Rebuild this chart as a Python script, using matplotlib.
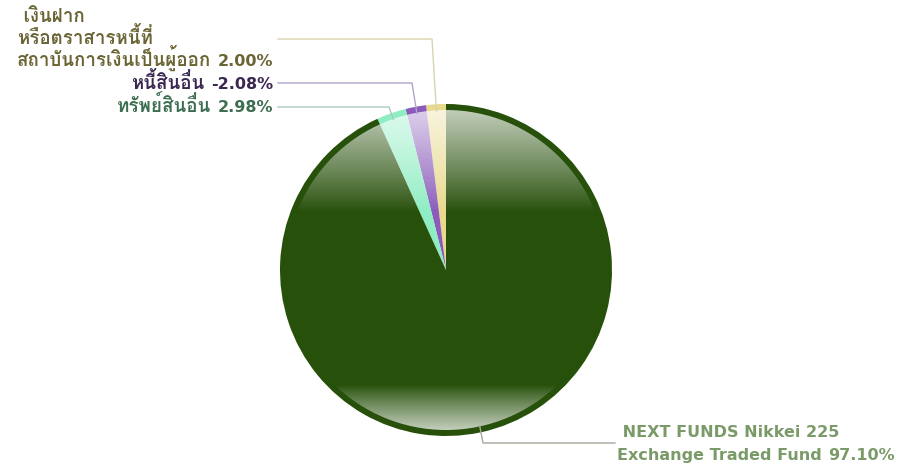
import numpy as np
import matplotlib
matplotlib.use('Agg')
import matplotlib.pyplot as plt
from matplotlib.patches import Circle

plt.rcParams['font.family'] = ['DejaVu Sans', 'Loma']

# 데이터
labels = [' เงินฝาก\nหรือตราสารหนี้ที่\nสถาบันการเงินเป็นผู้ออก',
          'หนี้สินอื่น',
          'ทรัพย์สินอื่น',
          ' NEXT FUNDS Nikkei 225\nExchange Traded Fund']
values = [2.00, -2.08, 2.98, 97.10]

colors = ['#E8D98C', '#8A5BBA', '#8EEDC2', '#27500B']
text_colors = ['#6B6535', '#3A2850', '#3E6E52', '#7A9A68']
line_colors = ['#D8D3AE', '#B4A4CC', '#A9C9BF', '#A3AA9C']

W, H = 906, 465
fig = plt.figure(figsize=(W / 100, H / 100), dpi=100)
ax = fig.add_axes([0, 0, 1, 1])

cx, cy, R = 446, 195, 166
sizes = np.abs(values)
wedges, _ = ax.pie(sizes, colors=colors, startangle=90, counterclock=True,
                   radius=R, center=(cx, cy), frame=False,
                   wedgeprops=dict(linewidth=0))
ax.set_xlim(0, W)
ax.set_ylim(0, H)
ax.set_aspect('equal')
ax.axis('off')

# 그라데이션 (위/아래 하이라이트)
r_in = R - 6
yy = np.linspace(1, -1, 400)
alpha = np.zeros_like(yy)
top = yy > 0.36
alpha[top] = 0.72 * ((yy[top] - 0.36) / 0.64) ** 0.9
bot = yy < -0.72
alpha[bot] = 0.72 * ((-0.72 - yy[bot]) / 0.28) ** 0.9
grad = np.ones((400, 2, 4))
grad[:, :, 3] = alpha[:, None]
im = ax.imshow(grad, extent=[cx - r_in, cx + r_in, cy - r_in, cy + r_in],
               aspect='auto', zorder=3, interpolation='bilinear')
clip = Circle((cx, cy), r_in, transform=ax.transData)
im.set_clip_path(clip)

# 레이블 / 지시선 (마지막 줄의 기준선 위치)
label_pos = [(273, H - 66), (273, H - 89), (273, H - 112), (617, H - 460)]
elbows = [(432, H - 39), (412, H - 83), (389, H - 107), (483, H - 443)]
line_ends = [(278, H - 39), (278, H - 83), (278, H - 107), (615, H - 443)]

renderer = fig.canvas.get_renderer()
inv = ax.transData.inverted()


def x_of(px):
    return inv.transform((px, 0))[0]


for i, w in enumerate(wedges):
    ang = np.deg2rad((w.theta1 + w.theta2) / 2)
    px = cx + 0.96 * R * np.cos(ang)
    py = cy + 0.96 * R * np.sin(ang)
    ex, ey = elbows[i]
    lx, ly = line_ends[i]
    ax.plot([px, ex, lx], [py, ey, ly], color=line_colors[i], lw=1, zorder=4)

    pct = f'{values[i]:.2f}%'
    tx, ty = label_pos[i]
    lines = labels[i].split('\n')
    thai = any('\u0e00' <= ch <= '\u0e7f' for ch in labels[i])
    fs = 13.5 if thai else 11.5
    pitch = 22 if thai else 23
    kw = dict(va='baseline', fontweight='bold', color=text_colors[i], zorder=5)

    if tx > cx:
        t = ax.text(tx, ty, lines[-1], ha='left', fontsize=fs, **kw)
        bb = t.get_window_extent(renderer)
        ax.text(x_of(bb.x1) + 6, ty, pct, ha='left', fontsize=11.5, **kw)
        left = tx
    else:
        t = ax.text(tx, ty, pct, ha='right', fontsize=11.5, **kw)
        bb = t.get_window_extent(renderer)
        t2 = ax.text(x_of(bb.x0) - 6, ty, lines[-1], ha='right', fontsize=fs, **kw)
        left = x_of(t2.get_window_extent(renderer).x0)
    for k, line in enumerate(lines[:-1]):
        ax.text(left, ty + (len(lines) - 1 - k) * pitch, line, ha='left',
                fontsize=fs, **kw)

fig.savefig('out.png', dpi=100)
